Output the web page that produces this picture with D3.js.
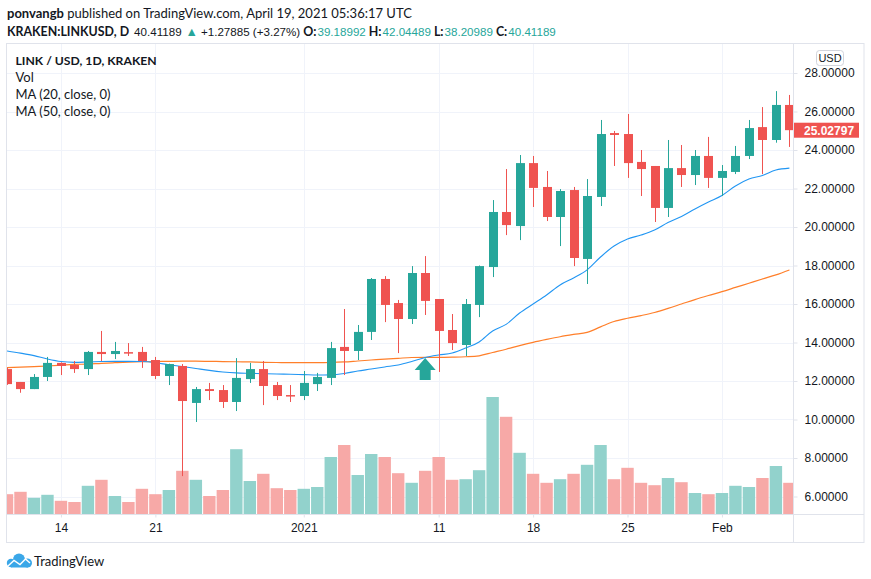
<!DOCTYPE html>
<html><head><meta charset="utf-8">
<script src="https://cdn.jsdelivr.net/npm/d3@7"></script>
<style>
body{margin:0;background:#fff}
svg{display:block}
text{font-family:"Lato","Noto Sans",sans-serif;fill:#131722}
</style>
</head><body>
<svg id="c" width="871" height="579"></svg>
<script>
// ---------------- DATA ----------------
const dates = [
"2020-12-10","2020-12-11","2020-12-12","2020-12-13","2020-12-14","2020-12-15","2020-12-16","2020-12-17","2020-12-18","2020-12-19",
"2020-12-20","2020-12-21","2020-12-22","2020-12-23","2020-12-24","2020-12-25","2020-12-26","2020-12-27","2020-12-28","2020-12-29",
"2020-12-30","2020-12-31","2021-01-01","2021-01-02","2021-01-03","2021-01-04","2021-01-05","2021-01-06","2021-01-07","2021-01-08",
"2021-01-09","2021-01-10","2021-01-11","2021-01-12","2021-01-13","2021-01-14","2021-01-15","2021-01-16","2021-01-17","2021-01-18",
"2021-01-19","2021-01-20","2021-01-21","2021-01-22","2021-01-23","2021-01-24","2021-01-25","2021-01-26","2021-01-27","2021-01-28",
"2021-01-29","2021-01-30","2021-01-31","2021-02-01","2021-02-02","2021-02-03","2021-02-04","2021-02-05","2021-02-06"];

const openP = [12.62,11.95,11.58,12.21,12.94,12.83,12.62,13.51,13.40,13.50,
13.51,13.09,12.26,12.78,10.86,11.58,11.53,10.91,12.10,12.62,
11.79,11.27,11.22,11.84,12.16,13.77,13.56,14.55,17.30,16.05,
15.22,17.61,16.26,14.65,13.87,15.95,17.92,20.78,20.05,23.32,
22.08,20.52,21.92,18.34,21.56,24.88,24.83,23.38,23.17,20.99,
23.06,22.70,23.69,22.55,22.86,23.69,25.19,24.52,26.34];
const highP = [12.68,11.95,12.36,13.25,12.97,13.04,13.56,14.60,14.03,13.97,
13.77,13.25,12.90,12.88,11.69,11.90,11.79,13.19,12.94,13.04,
11.95,11.79,12.52,12.42,14.03,15.74,14.91,17.35,17.45,16.21,
17.97,18.49,16.26,15.48,16.26,18.00,21.40,23.01,23.74,23.69,
22.91,21.97,22.08,22.49,25.56,24.99,25.87,24.00,23.17,24.52,
24.26,24.00,24.68,23.22,24.21,25.56,26.23,27.06,26.86];
const lowP = [11.80,11.39,11.58,12.00,12.31,12.42,12.31,13.04,13.14,13.30,
12.68,12.10,11.79,7.06,9.87,11.01,10.60,10.44,11.90,10.75,
11.01,10.91,11.01,11.48,11.79,12.31,13.09,14.13,15.06,13.45,
14.96,15.43,12.47,13.61,13.30,15.32,17.40,19.58,19.32,21.04,
20.31,19.01,17.97,17.04,21.09,23.17,22.55,21.61,20.26,20.52,
22.08,22.18,22.03,21.61,22.75,23.53,22.75,24.38,24.16];
const closeP = [11.84,11.58,12.21,12.94,12.78,12.62,13.51,13.40,13.56,13.45,
13.04,12.26,12.88,10.96,11.58,11.48,10.91,12.16,12.62,11.74,
11.22,11.22,11.90,12.21,13.71,13.56,14.55,17.30,15.95,15.22,
17.61,16.16,14.60,13.97,16.00,17.97,20.78,20.10,23.32,22.03,
20.52,21.87,18.39,21.61,24.83,24.78,23.32,23.01,20.99,23.06,
22.70,23.69,22.55,22.91,23.69,25.14,24.52,26.34,25.03];
// volume (millions LINK, estimated)
const volume = [0.33,0.37,0.27,0.32,0.22,0.20,0.47,0.57,0.30,0.20,
0.42,0.33,0.40,0.72,0.57,0.30,0.40,1.08,0.55,0.67,
0.43,0.40,0.42,0.45,0.95,1.15,0.65,1.00,0.95,0.68,
0.52,0.72,0.95,0.57,0.58,0.73,1.95,1.62,1.02,0.67,
0.52,0.58,0.67,0.82,1.15,0.58,0.77,0.52,0.48,0.60,
0.53,0.35,0.33,0.35,0.47,0.45,0.60,0.80,0.52];
// MA (20, close) values
const ma20 = [13.56,13.45,13.32,13.14,13.01,12.97,12.99,13.01,13.02,13.02,
13.01,12.95,12.84,12.75,12.65,12.55,12.47,12.42,12.40,12.38,
12.36,12.35,12.33,12.31,12.32,12.39,12.52,12.62,12.73,12.83,
13.01,13.22,13.35,13.45,13.71,14.03,14.60,14.94,15.53,16.00,
16.47,16.99,17.35,17.77,18.44,19.01,19.38,19.58,19.84,20.23,
20.55,20.94,21.30,21.64,22.13,22.49,22.68,22.96,23.06];
// MA (50, close) values
const ma50 = [12.69,12.72,12.75,12.78,12.82,12.86,12.88,12.92,12.95,12.98,
13.00,13.01,13.02,13.03,13.03,13.02,13.01,13.00,12.99,12.97,
12.96,12.95,12.95,12.95,12.96,12.99,13.04,13.09,13.14,13.18,
13.22,13.23,13.23,13.24,13.26,13.31,13.48,13.65,13.84,14.01,
14.16,14.30,14.42,14.53,14.81,15.09,15.26,15.40,15.56,15.77,
16.00,16.23,16.44,16.64,16.86,17.08,17.30,17.51,17.77];

const priceTicks = [6,8,10,12,14,16,18,20,22,24,26,28];
const timeTickDates = ["2020-12-14","2020-12-21","2021-01-01","2021-01-11","2021-01-18","2021-01-25","2021-02-01"];
const timeTickLabels = ["14","21","2021","11","18","25","Feb"];
const lastPrice = 25.02797;
const arrowMark = {date:"2021-01-10", price:13.19};

// ---------------- LAYOUT ----------------
const parse = d3.utcParse("%Y-%m-%d");
const W = 871, H = 579;
const L = 7, R = 793, T = 43, B = 514, RB = 864, AB = 542;
const GREEN = "#26a69a", RED = "#ef5350";
const GREEN_V = "#92d2cc", RED_V = "#f7a9a7";

const data = dates.map((d,i)=>({date:parse(d),o:openP[i],h:highP[i],l:lowP[i],c:closeP[i],v:volume[i],m20:ma20[i],m50:ma50[i]}));

const x = d3.scaleUtc().domain([parse(dates[0]), parse(dates[dates.length-1])]).range([7, 789.4]);
const y = d3.scaleLinear().domain([6,28]).range([496.5,73]);
const yv = d3.scaleLinear().domain([0,5]).range([B,B-300]);

const svg = d3.select("#c");
svg.append("rect").attr("width",W).attr("height",H).attr("fill","#fff");

// header line 1
const h1 = svg.append("text").attr("x",7).attr("y",18).style("font-size","13px");
h1.append("tspan").attr("font-weight","bold").text("ponvangb");
h1.append("tspan").text(" published on TradingView.com, April 19, 2021 05:36:17 UTC");

// header line 2 (segments placed one after another)
const NUMF = "'Liberation Sans',sans-serif";
const segs = [
  {t:"KRAKEN:LINKUSD, D", b:true, gap:5},
  {t:"40.41189", f:NUMF, gap:4},
  {t:"▲", c:GREEN, s:"12.5px", gap:3},
  {t:"+1.27885 (+3.27%)", f:NUMF, gap:3},
  {t:"O:", b:true, gap:1},{t:"39.18992", f:NUMF, c:GREEN, gap:3},
  {t:"H:", b:true, gap:1},{t:"42.04489", f:NUMF, c:GREEN, gap:3},
  {t:"L:", b:true, gap:1},{t:"38.20989", f:NUMF, c:GREEN, gap:3},
  {t:"C:", b:true, gap:1},{t:"40.41189", f:NUMF, c:GREEN, gap:0}
];
let hx = 7;
segs.forEach(s=>{
  const t = svg.append("text").attr("x",hx).attr("y",36)
    .style("font-size", s.s || (s.f ? "11.6px" : "12.4px"))
    .attr("font-weight", s.b ? "bold" : "normal")
    .text(s.t);
  if (s.f) t.style("font-family", s.f);
  if (s.c) t.style("fill", s.c);
  hx += t.node().getComputedTextLength() + s.gap;
});

// defs / clip
svg.append("defs").append("clipPath").attr("id","plot")
  .append("rect").attr("x",L).attr("y",T).attr("width",R-L).attr("height",B-T);

// gridlines
const grid = svg.append("g");
grid.selectAll("line.h").data(priceTicks).join("line")
  .attr("x1",L).attr("x2",R).attr("y1",d=>Math.round(y(d))+0.5).attr("y2",d=>Math.round(y(d))+0.5)
  .attr("stroke","#f0f3fa");
grid.selectAll("line.v").data(timeTickDates).join("line")
  .attr("x1",d=>Math.round(x(parse(d)))+0.5).attr("x2",d=>Math.round(x(parse(d)))+0.5)
  .attr("y1",T).attr("y2",B).attr("stroke","#f0f3fa");

const plot = svg.append("g").attr("clip-path","url(#plot)");

// volume
plot.append("g").selectAll("rect").data(data).join("rect")
  .attr("x",d=>x(d.date)-6.2).attr("width",12.4)
  .attr("y",d=>yv(d.v)).attr("height",d=>B-yv(d.v))
  .attr("fill",d=>d.c>=d.o?GREEN_V:RED_V);

// moving averages
const line = k => d3.line().x(d=>x(d.date)).y(d=>y(d[k])).curve(d3.curveMonotoneX);
plot.append("path").datum(data).attr("d",line("m50")).attr("fill","none").attr("stroke","#ff7f2a").attr("stroke-width",1.2);
plot.append("path").datum(data).attr("d",line("m20")).attr("fill","none").attr("stroke","#2196f3").attr("stroke-width",1.1);

// candles
const cg = plot.append("g").selectAll("g").data(data).join("g");
cg.append("rect")
  .attr("x",d=>Math.round(x(d.date)))
  .attr("width",1)
  .attr("y",d=>y(d.h)).attr("height",d=>y(d.l)-y(d.h))
  .attr("fill",d=>d.c>=d.o?GREEN:RED);
cg.append("rect")
  .attr("x",d=>Math.round(x(d.date))-4)
  .attr("width",9)
  .attr("y",d=>y(Math.max(d.o,d.c)))
  .attr("height",d=>Math.max(1.5,Math.abs(y(d.o)-y(d.c))))
  .attr("fill",d=>d.c>=d.o?GREEN:RED);

// arrow annotation
const ax = x(parse(arrowMark.date)), ay = y(arrowMark.price);
svg.append("path")
  .attr("d",`M${ax},${ay} L${ax+10.5},${ay+12} L${ax+5.5},${ay+12} L${ax+5.5},${ay+22} L${ax-5.5},${ay+22} L${ax-5.5},${ay+12} L${ax-10.5},${ay+12} Z`)
  .attr("fill",GREEN);

// borders
const bc = "#e0e3eb";
svg.append("rect").attr("x",L-0.5).attr("y",T+0.5).attr("width",RB-L+0.5).attr("height",AB-T).attr("fill","none").attr("stroke",bc);
svg.append("line").attr("x1",R+0.5).attr("x2",R+0.5).attr("y1",T).attr("y2",AB).attr("stroke",bc);
svg.append("line").attr("x1",L).attr("x2",RB).attr("y1",B+0.5).attr("y2",B+0.5).attr("stroke",bc);

// price axis
const ya = svg.append("g").attr("transform",`translate(${R+0.5},0)`)
  .call(d3.axisRight(y).tickValues(priceTicks).tickFormat(d=>d.toFixed(5)).tickSize(4).tickPadding(7));
ya.select(".domain").remove();
ya.selectAll("line").attr("stroke",bc);
ya.selectAll("text").style("font-size","12px").style("font-family",NUMF).attr("fill","#131722");

// time axis
const xa = svg.append("g").attr("transform",`translate(0,${B+0.5})`)
  .call(d3.axisBottom(x).tickValues(timeTickDates.map(parse)).tickFormat((d,i)=>timeTickLabels[i]).tickSize(3).tickPadding(6));
xa.select(".domain").remove();
xa.selectAll("line").attr("stroke",bc);
xa.selectAll("text").style("font-size","12px").style("font-family",NUMF).attr("fill","#131722");

// USD box
svg.append("rect").attr("x",816.5).attr("y",50.5).attr("width",27).attr("height",15).attr("rx",3)
  .attr("fill","#fff").attr("stroke","#d1d4dc");
svg.append("text").attr("x",830).attr("y",61.5).attr("text-anchor","middle")
  .style("font-size","11px").style("font-family",NUMF).text("USD");

// last price label
const ly = y(lastPrice);
svg.append("rect").attr("x",R+1).attr("y",ly-7.5).attr("width",65).attr("height",15).attr("fill",RED);
svg.append("text").attr("x",804).attr("y",ly+4.3).style("font-size","12px").style("font-weight","bold")
  .style("font-family",NUMF).style("fill","#fff").text(lastPrice.toFixed(5));

// legend
const leg = [["LINK / USD, 1D, KRAKEN",true],["Vol",false],["MA (20, close, 0)",false],["MA (50, close, 0)",false]];
leg.forEach((l,i)=>{
  svg.append("text").attr("x",15.5).attr("y",65+i*16.9).style("font-size",l[1]?"12.2px":"13px")
    .attr("font-weight",l[1]?"bold":"normal").text(l[0]);
});

// TradingView logo
const lg = svg.append("g");
lg.append("circle").attr("cx",11).attr("cy",563).attr("r",4.2).attr("fill","#3aa7e8");
lg.append("circle").attr("cx",19).attr("cy",559.5).attr("r",6).attr("fill","#3aa7e8");
lg.append("circle").attr("cx",27.5).attr("cy",563).attr("r",4.5).attr("fill","#3aa7e8");
lg.append("rect").attr("x",11).attr("y",562).attr("width",17).attr("height",5.5).attr("fill","#3aa7e8");
lg.append("polyline").attr("points","8,566 14,560.5 20,564.5 25.5,559 30,563").attr("fill","none").attr("stroke","#fff").attr("stroke-width",1.4);
svg.append("text").attr("x",34).attr("y",566).style("font-size","13px").text("TradingView");
</script>
</body></html>
